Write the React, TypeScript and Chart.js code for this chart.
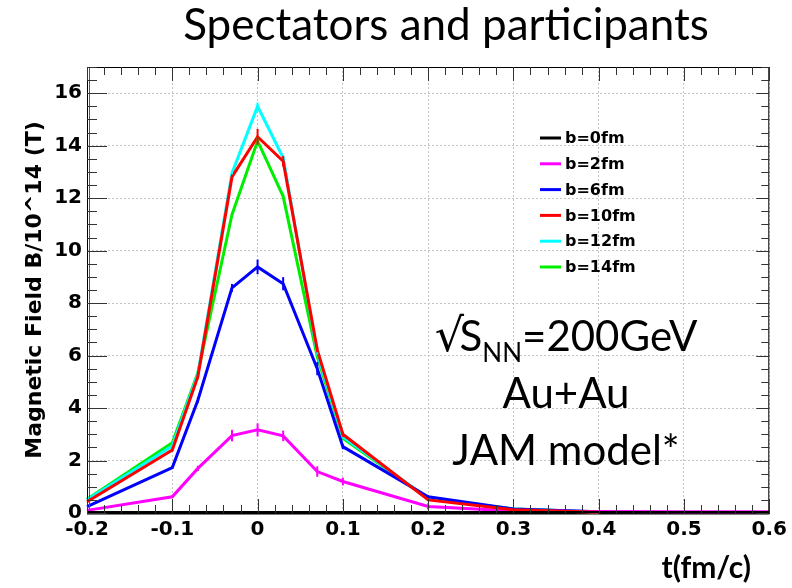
import React, { useEffect, useRef } from "react";
import { Chart, registerables } from "chart.js";
Chart.register(...registerables);

// ---- data ----
const tValues = [-0.2, -0.1, -0.07, -0.03, 0, 0.03, 0.07, 0.1, 0.2, 0.3, 0.4, 0.5, 0.6];
const seriesLabels = ["b=0fm", "b=2fm", "b=6fm", "b=10fm", "b=12fm", "b=14fm"];
const seriesColors = ["#000000", "#ff00ff", "#0000ff", "#ff0000", "#00ffff", "#00ee00"];
const b0 = [0, 0, 0, 0, 0, 0, 0, 0, 0, 0, 0, 0, 0];
const b2 = [0.1, 0.62, 1.7, 2.95, 3.17, 2.94, 1.58, 1.2, 0.25, 0.08, 0.06, 0.05, 0.05];
const b6 = [0.24, 1.73, 4.3, 8.58, 9.38, 8.74, 5.5, 2.53, 0.62, 0.15, 0.05, null, null];
const b10 = [0.43, 2.4, 5.2, 12.81, 14.34, 13.41, 6.22, 3.0, 0.5, 0.12, 0.03, null, null];
const b12 = [0.5, 2.55, 5.3, 12.95, 15.5, 13.54, 6.1, 2.9, 0.55, 0.15, 0.04, null, null];
const b14 = [0.52, 2.68, 5.35, 11.37, 14.18, 12.07, 5.95, 2.85, 0.55, 0.15, 0.04, null, null];
const seriesValues: (number | null)[][] = [b0, b2, b6, b10, b12, b14];
const err0 = [0, 0, 0, 0, 0, 0, 0, 0, 0, 0, 0, 0, 0];
const err2 = [0, 0.05, 0.1, 0.22, 0.25, 0.2, 0.2, 0.15, 0.12, 0, 0, 0, 0];
const err6 = [0, 0.05, 0.1, 0.15, 0.28, 0.25, 0.25, 0.1, 0.05, 0, 0, 0, 0];
const err10 = [0, 0.05, 0.1, 0.1, 0.3, 0.2, 0.1, 0.1, 0.05, 0, 0, 0, 0];
const err12 = [0, 0, 0, 0.1, 0.15, 0.1, 0.05, 0, 0, 0, 0, 0, 0];
const err14 = [0, 0, 0, 0.1, 0.15, 0.1, 0.05, 0, 0, 0, 0, 0, 0];
const seriesErrors = [err0, err2, err6, err10, err12, err14];
const drawOrder = [5, 1, 2, 0, 3, 4]; // lower = on top

const xTickValues = [-0.2, -0.1, 0, 0.1, 0.2, 0.3, 0.4, 0.5, 0.6];
const xTickLabels = ["-0.2", "-0.1", "0", "0.1", "0.2", "0.3", "0.4", "0.5", "0.6"];
const yTickValues = [0, 2, 4, 6, 8, 10, 12, 14, 16];
const yTickLabels = ["0", "2", "4", "6", "8", "10", "12", "14", "16"];
const xMin = -0.2, xMax = 0.6, yMin = 0, yMax = 17;

const titleText = "Spectators and participants";
const yTitle = "Magnetic Field B/10^14 (T)";
const xTitle = "t(fm/c)";
const noteLine1 = ["√S", "NN", "=200GeV"];
const noteLine2 = "Au+Au";
const noteLine3 = "JAM model*";

const BOLD = "bold 16px 'DejaVu Sans'";

const decorPlugin = {
  id: "decor",
  afterDatasetsDraw(chart: any) {
    const ctx = chart.ctx;
    const xs = chart.scales.x, ys = chart.scales.y;
    const idx = seriesLabels.map((_, i) => i).sort((a, b) => drawOrder[b] - drawOrder[a]);
    idx.forEach((di) => {
      ctx.save();
      ctx.strokeStyle = seriesColors[di];
      ctx.lineWidth = 2;
      tValues.forEach((t, i) => {
        const v = seriesValues[di][i];
        const e = seriesErrors[di][i];
        if (v == null || !e) return;
        const px = xs.getPixelForValue(t);
        ctx.beginPath();
        ctx.moveTo(px, ys.getPixelForValue(v - e));
        ctx.lineTo(px, ys.getPixelForValue(v + e));
        ctx.stroke();
      });
      ctx.restore();
    });
  },
  afterDraw(chart: any) {
    const ctx = chart.ctx;
    const { left, right, top, bottom } = chart.chartArea;
    const xs = chart.scales.x, ys = chart.scales.y;
    ctx.save();
    // frame
    ctx.strokeStyle = "#000";
    ctx.lineWidth = 1;
    ctx.strokeRect(left + 0.5, top + 0.5, right - left - 1, bottom - top - 1);
    ctx.strokeStyle = "#555";
    ctx.beginPath();
    ctx.moveTo(left + 2.5, top);
    ctx.lineTo(left + 2.5, bottom);
    ctx.stroke();
    ctx.strokeStyle = "#000";
    ctx.lineWidth = 2;
    ctx.beginPath();
    ctx.moveTo(left, bottom - 1);
    ctx.lineTo(right, bottom - 1);
    ctx.stroke();
    // ticks
    ctx.lineWidth = 1;
    ctx.strokeStyle = "#333";
    for (let k = 0; k <= 40; k++) {
      const v = xMin + k * 0.02;
      const px = Math.round(xs.getPixelForValue(v)) + 0.5;
      const len = k % 5 === 0 ? 14 : 8;
      ctx.beginPath();
      ctx.moveTo(px, bottom);
      ctx.lineTo(px, bottom - len);
      ctx.moveTo(px, top);
      ctx.lineTo(px, top + len);
      ctx.stroke();
    }
    for (let k = 0; k <= 34; k++) {
      const v = yMin + k * 0.5;
      const py = Math.round(ys.getPixelForValue(v)) + 0.5;
      const len = k % 4 === 0 ? 20 : 10;
      ctx.beginPath();
      ctx.moveTo(left, py);
      ctx.lineTo(left + len, py);
      ctx.moveTo(right, py);
      ctx.lineTo(right - len / 2 - 3, py);
      ctx.stroke();
    }
    // legend
    ctx.font = BOLD;
    ctx.textBaseline = "middle";
    ctx.textAlign = "left";
    seriesLabels.forEach((lab, i) => {
      const y = 138 + i * 25.8;
      ctx.strokeStyle = seriesColors[i];
      ctx.lineWidth = 3;
      ctx.beginPath();
      ctx.moveTo(540, y);
      ctx.lineTo(561, y);
      ctx.stroke();
      ctx.fillStyle = "#000";
      ctx.fillText(lab, 565, y + 1);
    });
    // title
    ctx.textBaseline = "alphabetic";
    ctx.textAlign = "center";
    ctx.fillStyle = "#000";
    ctx.font = "44px Lato";
    ctx.fillText(titleText, 446, 40);
    // annotation
    const big = "42px Lato";
    const small = "26px Lato";
    const rootFont = "46px 'DejaVu Sans'";
    ctx.textAlign = "left";
    ctx.font = rootFont;
    const w0 = ctx.measureText(noteLine1[0].slice(0, 1)).width * 0.85;
    ctx.font = big;
    const w1 = ctx.measureText(noteLine1[0].slice(1)).width;
    const w3 = ctx.measureText(noteLine1[2]).width;
    ctx.font = small;
    const w2 = ctx.measureText(noteLine1[1]).width;
    const x0 = 566 - (w0 + w1 + w2 + w3) / 2;
    ctx.font = rootFont;
    ctx.fillText(noteLine1[0].slice(0, 1), x0, 351);
    ctx.font = big;
    ctx.fillText(noteLine1[0].slice(1), x0 + w0, 351);
    ctx.font = small;
    ctx.fillText(noteLine1[1], x0 + w0 + w1, 362);
    ctx.font = big;
    ctx.fillText(noteLine1[2], x0 + w0 + w1 + w2, 351);
    ctx.textAlign = "center";
    ctx.fillText(noteLine2, 566, 408);
    ctx.fillText(noteLine3, 566, 465);
    // x title
    ctx.textAlign = "right";
    ctx.font = "bold 30px Lato";
    ctx.fillText(xTitle, 751, 578);
    ctx.restore();
  },
};

export default function App() {
  const ref = useRef<HTMLCanvasElement | null>(null);
  useEffect(() => {
    if (!ref.current) return;
    const datasets = seriesLabels.map((lab, i) => ({
      label: lab,
      data: tValues
        .map((t, j) => ({ x: t, y: seriesValues[i][j] }))
        .filter((p) => p.y !== null),
      borderColor: seriesColors[i],
      backgroundColor: seriesColors[i],
      borderWidth: 3,
      pointRadius: 0,
      tension: 0,
      fill: false,
      clip: 6,
      order: drawOrder[i],
    }));
    const tickFont = { family: "'DejaVu Sans'", weight: "bold" as const, size: 20 };
    const chart = new Chart(ref.current, {
      type: "line",
      data: { datasets: datasets as any },
      plugins: [decorPlugin],
      options: {
        animation: false,
        responsive: false,
        parsing: false as any,
        layout: { padding: { top: 67, right: 19, left: 0, bottom: 0 } },
        plugins: { legend: { display: false }, title: { display: false }, tooltip: { enabled: false } },
        scales: {
          x: {
            type: "linear",
            min: xMin,
            max: xMax,
            afterFit: (s: any) => { s.height = 75; },
            afterBuildTicks: (s: any) => { s.ticks = xTickValues.map((v) => ({ value: v })); },
            ticks: {
              color: "#000",
              font: tickFont,
              padding: 5,
              maxRotation: 0,
              autoSkip: false,
              callback: (_v: any, i: number) => xTickLabels[i],
            },
            grid: { color: "#c4c4c4", lineWidth: 1, drawTicks: false },
            border: { display: true, color: "#000", dash: [2, 2] },
          },
          y: {
            type: "linear",
            min: yMin,
            max: yMax,
            afterFit: (s: any) => { s.width = 87; },
            afterBuildTicks: (s: any) => { s.ticks = yTickValues.map((v) => ({ value: v })); },
            ticks: {
              color: "#000",
              font: tickFont,
              padding: 5,
              autoSkip: false,
              callback: (_v: any, i: number) => yTickLabels[i],
            },
            grid: { color: "#c4c4c4", lineWidth: 1, drawTicks: false },
            border: { display: true, color: "#000", dash: [2, 2] },
            title: {
              display: true,
              text: yTitle,
              color: "#000",
              font: { family: "'DejaVu Sans'", weight: "bold", size: 22 },
              padding: { top: 22, bottom: 0 },
            },
          },
        },
      },
    });
    return () => chart.destroy();
  }, []);
  return (
    <div style={{ position: "fixed", left: 0, top: 0, width: 792, height: 588, background: "#fff" }}>
      <canvas ref={ref} width={792} height={588} style={{ display: "block" }} />
    </div>
  );
}
